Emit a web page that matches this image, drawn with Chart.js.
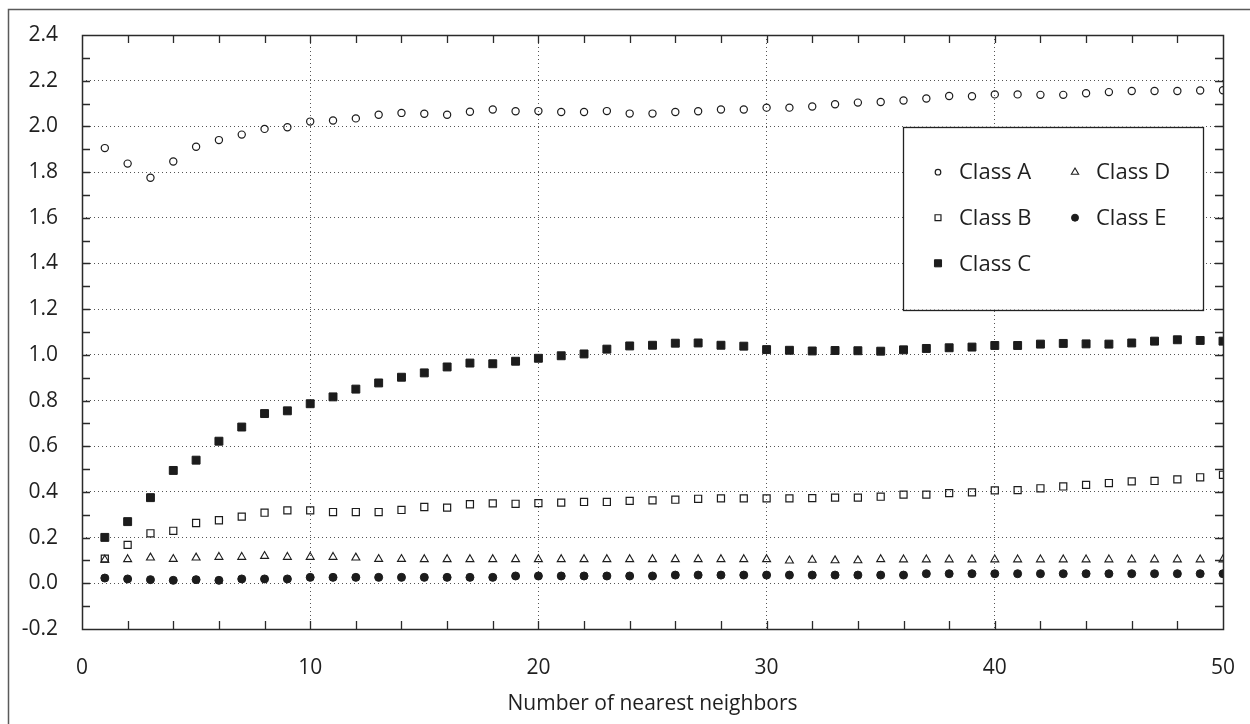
<!DOCTYPE html>
<html>
<head>
<meta charset="utf-8">
<script src="https://cdn.jsdelivr.net/npm/chart.js@4.4.1/dist/chart.umd.min.js"></script>
<style>
html,body{margin:0;padding:0;background:#fff;}
#wrap{width:1250px;height:724px;position:relative;}
canvas{display:block;}
</style>
</head>
<body>
<div id="wrap"><canvas id="c" width="1250" height="724"></canvas></div>
<script>
// ---------- data ----------
const neighbors = [1,2,3,4,5,6,7,8,9,10,11,12,13,14,15,16,17,18,19,20,21,22,23,24,25,26,27,28,29,30,31,32,33,34,35,36,37,38,39,40,41,42,43,44,45,46,47,48,49,50];
const classA = [1.905,1.837,1.775,1.846,1.911,1.94,1.964,1.989,1.996,2.021,
                2.026,2.035,2.051,2.059,2.055,2.051,2.064,2.074,2.066,2.067,
                2.063,2.063,2.067,2.056,2.056,2.063,2.066,2.074,2.074,2.082,
                2.082,2.087,2.097,2.104,2.107,2.113,2.122,2.133,2.132,2.14,
                2.14,2.138,2.138,2.145,2.15,2.155,2.155,2.155,2.157,2.158];
const classB = [0.108,0.168,0.219,0.23,0.264,0.276,0.292,0.309,0.319,0.319,
                0.312,0.312,0.312,0.321,0.334,0.331,0.346,0.35,0.348,0.351,
                0.353,0.356,0.356,0.361,0.363,0.366,0.37,0.372,0.372,0.372,
                0.372,0.373,0.375,0.375,0.379,0.388,0.388,0.395,0.398,0.407,
                0.408,0.416,0.424,0.431,0.439,0.446,0.448,0.455,0.464,0.475];
const classC = [0.201,0.27,0.375,0.494,0.539,0.622,0.684,0.743,0.755,0.786,
                0.816,0.85,0.877,0.902,0.921,0.947,0.964,0.961,0.972,0.985,
                0.996,1.004,1.025,1.039,1.042,1.051,1.052,1.042,1.038,1.023,
                1.02,1.017,1.019,1.018,1.016,1.022,1.028,1.031,1.034,1.041,
                1.041,1.047,1.05,1.048,1.047,1.052,1.06,1.066,1.063,1.06];
const classD = [0.103,0.105,0.112,0.106,0.112,0.115,0.115,0.119,0.115,0.115,
                0.115,0.112,0.106,0.106,0.105,0.105,0.105,0.105,0.105,0.105,
                0.105,0.105,0.105,0.105,0.105,0.105,0.105,0.105,0.105,0.105,
                0.099,0.102,0.1,0.1,0.105,0.104,0.104,0.104,0.104,0.104,
                0.104,0.104,0.104,0.104,0.104,0.104,0.104,0.104,0.104,0.104];
const classE = [0.023,0.019,0.016,0.013,0.016,0.013,0.019,0.019,0.019,0.026,
                0.026,0.026,0.026,0.026,0.026,0.026,0.026,0.026,0.032,0.032,
                0.032,0.032,0.032,0.032,0.032,0.036,0.036,0.036,0.036,0.036,
                0.036,0.036,0.036,0.036,0.036,0.036,0.042,0.042,0.042,0.042,
                0.042,0.042,0.042,0.042,0.042,0.042,0.042,0.042,0.042,0.042];
const seriesNames = ['Class A','Class B','Class C','Class D','Class E'];
const xTickValues = [0,10,20,30,40,50];
const xMinorTicks = [2,4,6,8,10,12,14,16,18,20,22,24,26,28,30,32,34,36,38,40,42,44,46,48];
const yTickValues = [-0.2,0,0.2,0.4,0.6,0.8,1.0,1.2,1.4,1.6,1.8,2.0,2.2,2.4];
const yMinorTicks = [-0.1,0,0.1,0.2,0.3,0.4,0.5,0.6,0.7,0.8,0.9,1.0,1.1,1.2,1.3,1.4,1.5,1.6,1.7,1.8,1.9,2.0,2.1,2.2,2.3];
const xTitle = 'Number of nearest neighbors';

// ---------- styles ----------
const FONT = "'Open Sans', 'Liberation Sans', sans-serif";
const INK = '#1c1c1c';
const TXT = '#1f1f1f';
const styles = [
  {pointStyle:'circle',   radius:3.6, borderWidth:1.2, bg:'rgba(0,0,0,0)', legendRadius:2.8},
  {pointStyle:'rect',     radius:5.0, borderWidth:1.2, bg:'rgba(0,0,0,0)', legendRadius:4.2},
  {pointStyle:'rect',     radius:5.6, borderWidth:1.0, bg:INK,             legendRadius:5.0},
  {pointStyle:'triangle', radius:4.6, borderWidth:1.1, bg:'rgba(0,0,0,0)', legendRadius:4.2},
  {pointStyle:'circle',   radius:4.0, borderWidth:1.0, bg:INK,             legendRadius:3.5}
];
const allSeries = [classA, classB, classC, classD, classE];

const datasets = allSeries.map((vals, i) => ({
  label: seriesNames[i],
  data: neighbors.map((n, j) => ({x: n, y: vals[j]})),
  showLine: false,
  pointStyle: styles[i].pointStyle,
  pointRadius: styles[i].radius,
  pointBorderWidth: styles[i].borderWidth,
  pointBackgroundColor: styles[i].bg,
  pointBorderColor: INK,
  pointHoverRadius: styles[i].radius
}));

function drawMarker(ctx, style, r, x, y) {
  ctx.save();
  ctx.fillStyle = style.bg;
  ctx.strokeStyle = INK;
  ctx.lineWidth = style.borderWidth;
  ctx.beginPath();
  if (style.pointStyle === 'circle') {
    ctx.arc(x, y, r, 0, Math.PI * 2);
  } else if (style.pointStyle === 'rect') {
    const s = Math.SQRT1_2 * r;
    ctx.rect(x - s, y - s, 2 * s, 2 * s);
  } else {
    const h = r;
    ctx.moveTo(x, y - h);
    ctx.lineTo(x + Math.sin(2 * Math.PI / 3) * h, y + h / 2);
    ctx.lineTo(x - Math.sin(2 * Math.PI / 3) * h, y + h / 2);
    ctx.closePath();
  }
  ctx.fill();
  ctx.stroke();
  ctx.restore();
}

const framePlugin = {
  id: 'frame',
  beforeDraw(chart) {
    const ctx = chart.ctx;
    ctx.save();
    ctx.fillStyle = '#fff';
    ctx.fillRect(0, 0, chart.width, chart.height);
    ctx.strokeStyle = '#5a5a5a';
    ctx.lineWidth = 1.5;
    ctx.beginPath();
    ctx.moveTo(8.5, chart.height);
    ctx.lineTo(8.5, 9.5);
    ctx.lineTo(chart.width, 9.5);
    ctx.stroke();
    ctx.restore();
  },
  afterDatasetsDraw(chart) {
    const ctx = chart.ctx;
    const a = chart.chartArea;
    const xs = chart.scales.x, ys = chart.scales.y;
    ctx.save();
    // inward ticks on all four sides
    ctx.strokeStyle = '#2a2a2a';
    ctx.lineWidth = 1.3;
    ctx.beginPath();
    const tl = 8;
    yMinorTicks.forEach(v => {
      const py = Math.round(ys.getPixelForValue(v)) + 0.5;
      ctx.moveTo(a.left, py); ctx.lineTo(a.left + tl, py);
      ctx.moveTo(a.right, py); ctx.lineTo(a.right - tl, py);
    });
    xMinorTicks.forEach(v => {
      const px = Math.round(xs.getPixelForValue(v)) + 0.5;
      ctx.moveTo(px, a.top); ctx.lineTo(px, a.top + tl);
      ctx.moveTo(px, a.bottom); ctx.lineTo(px, a.bottom - tl);
    });
    ctx.stroke();
    // plot frame
    ctx.strokeStyle = '#2a2a2a';
    ctx.lineWidth = 1.5;
    ctx.strokeRect(Math.round(a.left) + 0.5, Math.round(a.top) + 0.5,
                   Math.round(a.right - a.left), Math.round(a.bottom - a.top));

    // legend box
    const bx = a.right - 320, by = a.top + 91.5, bw = 300, bh = 183;
    ctx.fillStyle = '#fff';
    ctx.fillRect(bx, by, bw, bh);
    ctx.strokeStyle = '#222';
    ctx.lineWidth = 1.3;
    ctx.strokeRect(Math.round(bx) + 0.5, Math.round(by) + 0.5, bw, bh);
    const colX = [bx + 35, bx + 172];
    const rowY = [by + 45.7, by + 91.2, by + 136.8];
    ctx.font = "22px " + FONT;
    ctx.textBaseline = 'middle';
    ctx.textAlign = 'left';
    seriesNames.forEach((name, i) => {
      const col = i < 3 ? 0 : 1;
      const row = i < 3 ? i : i - 3;
      const mx = colX[col], my = rowY[row];
      drawMarker(ctx, styles[i], styles[i].legendRadius, mx, my);
      ctx.fillStyle = TXT;
      ctx.fillText(name, mx + 21, my + 1);
    });
    ctx.restore();
  }
};

new Chart(document.getElementById('c'), {
  type: 'scatter',
  data: {datasets},
  plugins: [framePlugin],
  options: {
    responsive: false,
    animation: false,
    devicePixelRatio: 1,
    layout: {padding: {left: 0, right: 27, top: 35, bottom: 0}},
    plugins: {legend: {display: false}, tooltip: {enabled: false}},
    scales: {
      x: {
        type: 'linear',
        min: 0, max: 50,
        afterBuildTicks: s => { s.ticks = xTickValues.map(v => ({value: v})); },
        afterFit: s => { s.height = 95; s.paddingLeft = 0; s.paddingRight = 0; },
        grid: {color: '#555', lineWidth: 1, drawTicks: false},
        border: {display: false, dash: [1, 3]},
        ticks: {font: {family: FONT, size: 21}, color: TXT, padding: 26, maxRotation: 0, autoSkip: false,
                callback: v => String(v)},
        title: {display: true, text: xTitle, font: {family: FONT, size: 21}, color: TXT,
                padding: {top: 0, bottom: 7}}
      },
      y: {
        type: 'linear',
        min: -0.2, max: 2.4,
        afterBuildTicks: s => { s.ticks = yTickValues.map(v => ({value: v})); },
        afterFit: s => { s.width = 82; s.paddingTop = 0; s.paddingBottom = 0; },
        grid: {color: '#555', lineWidth: 1, drawTicks: false},
        border: {display: false, dash: [1, 3]},
        ticks: {font: {family: FONT, size: 21}, color: TXT, padding: 24, autoSkip: false,
                callback: v => (Math.abs(v) < 1e-9 ? 0 : v).toFixed(1)}
      }
    }
  }
});
</script>
</body>
</html>
